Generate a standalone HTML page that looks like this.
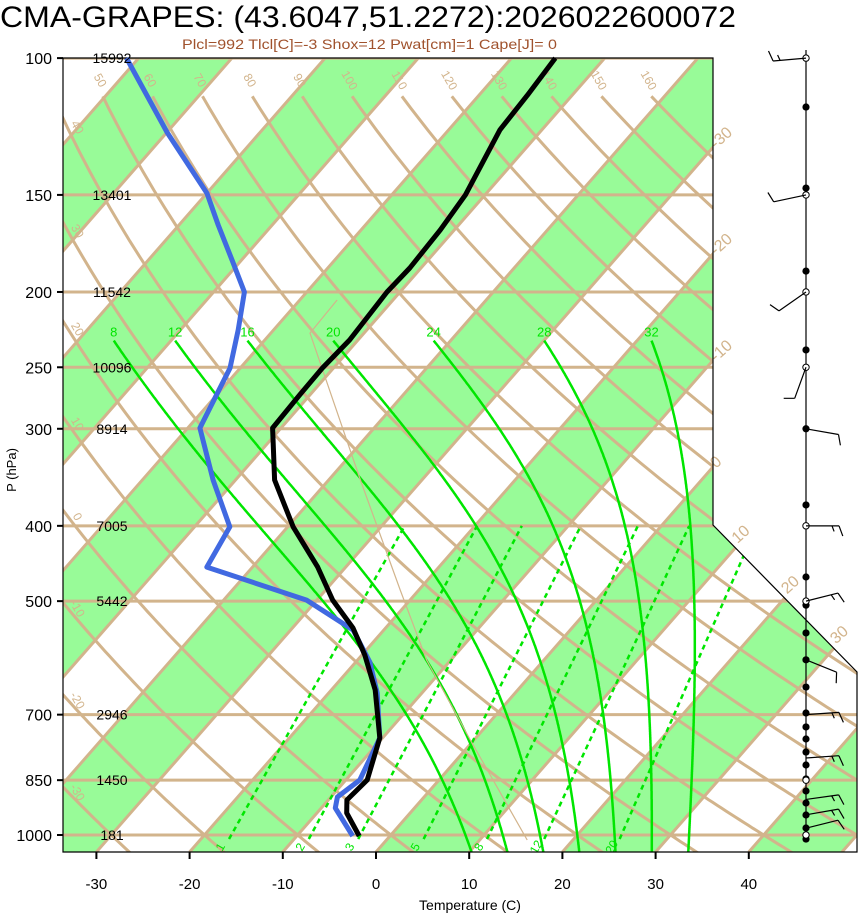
<!DOCTYPE html>
<html><head><meta charset="utf-8"><title>CMA-GRAPES Skew-T</title>
<style>
html,body{margin:0;padding:0;background:#fff;}
svg{display:block;font-family:"Liberation Sans",sans-serif;}
</style></head>
<body>
<svg id="chart" width="860" height="914" viewBox="0 0 860 914" xmlns="http://www.w3.org/2000/svg">
<defs><clipPath id="plotclip"><polygon points="63,58 713,58 713,525 857,672 857,852 63,852"/></clipPath></defs>
<text x="0" y="27" font-size="30" textLength="736" lengthAdjust="spacingAndGlyphs">CMA-GRAPES: (43.6047,51.2272):2026022600072</text>
<text x="182" y="49" font-size="14" fill="#a0522d" textLength="375" lengthAdjust="spacingAndGlyphs">Plcl=992 Tlcl[C]=-3 Shox=12 Pwat[cm]=1 Cape[J]= 0</text>
<g id="bg" clip-path="url(#plotclip)"></g>
<g id="fg"></g>
</svg>
<script>
// ---- data ----
const isobars = [100,150,200,250,300,400,500,700,850,1000];
const heightLabels = ["15992","13401","11542","10096","8914","7005","5442","2946","1450","181"];
const tempTicks = [-30,-20,-10,0,10,20,30,40];
const dryTheta = [-30,-20,-10,0,10,20,30,40,50,60,70,80,90,100,110,120,130,140,150,160];
const moistThw = [8,12,16,20,24,28,32];
const mixRatios = [1,2,3,5,8,12,20];
const tempP = [100,111.6,123.7,150,166.4,186.3,200,230.6,250.6,271.4,299.3,349.2,401.3,452,498.4,541.4,586.5,650.6,750,849.6,901.5,936.9,1003];
const tempC = [-55.3,-54.8,-54.5,-52.1,-51.5,-51.2,-51.4,-50.9,-51.2,-51.1,-50.9,-45.8,-39.4,-33.0,-28.3,-23.5,-19.7,-15.3,-10.3,-7.7,-8.0,-6.8,-3.3];
const dewP = [100,124.8,149.2,164,182,200,223.8,250.6,273.9,299.3,349.2,401.3,452,498.4,544.6,598.9,656.5,750,849.6,893.5,923,1003];
const dewC = [-101.3,-89.9,-80.0,-75.8,-71.0,-66.7,-63.8,-61.1,-59.9,-58.7,-52.4,-46.2,-44.9,-31.1,-23.3,-18.5,-14.8,-10.3,-8.5,-9.3,-8.5,-4.0];
const parcelP = [204.8,225.9,349.2,483.8,595.3,754.6,1015];
const parcelC = [-56.0,-55.8,-36.6,-22.0,-12.6,-0.4,15.1];
const dotP = [115.6,147,188,237.5,300,376,465.5,506,549.5,595,645,696.6,726,752.4,782,812.6,847,877.7,909.5,942.4,979.5,1012];
const openP = [100,150,200,250,400,500,850,1000];
const windP = [100,150,200,250,300,400,500,595,700,796,900,942,980];
const windDir = [265,258,235,200,100,90,76,112,86,86,82,80,76];
const windSpd = [15,10,10,10,10,15,15,10,15,15,15,15,10];

// ---- axes ----
const NS="http://www.w3.org/2000/svg";
const Y = p => 835 - 337.4*Math.log(1000/p);
const X = (T,p) => 376 + 9.32*T + 0.875*(852 - Y(p));
const XY = (T,y) => 376 + 9.32*T + 0.875*(852 - y);
const bg=document.getElementById('bg'), fg=document.getElementById('fg');
function el(tag,attrs,parent){const e=document.createElementNS(NS,tag);for(const k in attrs)e.setAttribute(k,attrs[k]);(parent||fg).appendChild(e);return e;}
const TAN="#d2b48c", LIME="#00e600";

// isotherm bands
for(let T=-120;T<=60;T+=10){
  if(((T%20)+20)%20===0){
    const b=el('polygon',{points:`${XY(T,852)},852 ${XY(T+10,852)},852 ${XY(T+10,40)},40 ${XY(T,40)},40`,fill:"#98fb98"},bg);
    
    
  }
}
// isobars
isobars.forEach(p=>{
  const l=el('line',{x1:63,x2:860,y1:Y(p),y2:Y(p),stroke:TAN,'stroke-width':3},bg);
  
  
});
// isotherms
for(let T=-120;T<=60;T+=10){
  const l=el('line',{x1:XY(T,852),y1:852,x2:XY(T,40),y2:40,stroke:TAN,'stroke-width':3},bg);
  
  
}
// dry adiabats
dryTheta.forEach(th=>{
  let pts=[];
  for(let p=1060;p>=112;p-=8){const T=(th+273.15)*Math.pow(p/1000,0.2857)-273.15;pts.push(X(T,p).toFixed(1)+','+Y(p).toFixed(1));}
  const T112=(th+273.15)*Math.pow(112/1000,0.2857)-273.15;
  pts.push(X(T112,112).toFixed(1)+','+Y(112).toFixed(1));
  const l=el('polyline',{points:pts.join(' '),fill:'none',stroke:TAN,'stroke-width':3},bg);
  
  
  let lx=X(T112,112)-6, ly=Y(112)-14;
  if(lx<70){
    for(let p=112;p<1100;p+=1){const T=(th+273.15)*Math.pow(p/1000,0.2857)-273.15;if(X(T,p)>=66){lx=74;ly=Y(p)+4;break;}}
  }
  const t=el('text',{x:lx,y:ly,'font-size':12,fill:TAN,'text-anchor':'middle',transform:`rotate(60 ${lx} ${ly})`});
  
  
  t.textContent=th;
});
// moist adiabats
function dTdp(T,p){const es=6.112*Math.exp(17.67*(T-273.15)/(T-29.65));const rs=0.622*es/(p-es);
  return (287*T+2.5e6*rs)/(p*(1004+2.5e6*2.5e6*rs*0.622/(287*T*T)));}
moistThw.forEach(th=>{
  let down=[],up=[];let T=th+273.15;
  for(let p=1000;p<=1060;p+=2){down.push([T,p]);T+=dTdp(T,p)*2;}
  T=th+273.15;
  for(let p=1000;p>=231;p-=1){up.push([T,p]);T-=dTdp(T,p)*1;}
  const all=down.reverse().concat(up);
  const l=el('polyline',{points:all.map(a=>X(a[0]-273.15,a[1]).toFixed(1)+','+Y(a[1]).toFixed(1)).join(' '),fill:'none',stroke:LIME,'stroke-width':2.5},bg);
  
  
  const top=up[up.length-1];
  const t=el('text',{x:X(top[0]-273.15,top[1]),y:Y(top[1])-4,'font-size':13,fill:LIME,'text-anchor':'middle'});
  
  
  t.textContent=th;
});
// mixing ratio lines
function tdOf(w,p){const e=w/1000*p/(0.622+w/1000);const l=Math.log(e/6.112);return 243.5*l/(17.67-l);}
mixRatios.forEach(w=>{
  const l=el('line',{x1:X(tdOf(w,1012),1012),y1:Y(1012),x2:X(tdOf(w,400),400),y2:Y(400),stroke:LIME,'stroke-width':2.5,'stroke-dasharray':'5,4'},bg);
  
  
  const lx=X(tdOf(w,1030),1030)-2, ly=Y(1030)+4;
  const t=el('text',{x:lx,y:ly,'font-size':12,fill:LIME,'text-anchor':'middle',transform:`rotate(-60 ${lx} ${ly})`},bg);
  
  
  t.textContent=w;
});
// parcel path
{const l=el('polyline',{points:parcelP.map((p,i)=>X(parcelC[i],p).toFixed(1)+','+Y(p).toFixed(1)).join(' '),fill:'none',stroke:TAN,'stroke-width':1.2},bg);
 
 }

// isotherm labels on right edge
for(let T=-30;T<=30;T+=10){
  let lx,ly;
  const yEdge=852-(713-376-9.32*T)/0.875;
  if(yEdge<=525){lx=716;ly=yEdge+2;}
  else{
    for(let y=525;y<=672;y+=0.5){const xd=713+(y-525)*144/147;if(XY(T,y)<=xd){lx=xd+2;ly=y-4;break;}}
  }
  if(lx===undefined)continue;
  const t=el('text',{x:lx,y:ly,'font-size':16,fill:TAN,transform:`rotate(-42 ${lx} ${ly})`});
  
  
  t.textContent=T;
}

// frame
{const f=el('polygon',{points:"63,58 713,58 713,525 857,672 857,852 63,852",fill:'none',stroke:'#000','stroke-width':1.2});
 
 }

// soundings
{const d=el('polyline',{points:dewP.map((p,i)=>X(dewC[i],p).toFixed(1)+','+Y(p).toFixed(1)).join(' '),fill:'none',stroke:'#4169e1','stroke-width':5,'stroke-linejoin':'round'});
 
 
 const t=el('polyline',{points:tempP.map((p,i)=>X(tempC[i],p).toFixed(1)+','+Y(p).toFixed(1)).join(' '),fill:'none',stroke:'#000','stroke-width':5,'stroke-linejoin':'round'});
 
 }

// left axis
isobars.forEach((p,i)=>{
  const tk=el('line',{x1:57,x2:63,y1:Y(p),y2:Y(p),stroke:'#000','stroke-width':2});
  
  
  const t=el('text',{x:52,y:Y(p)+6,'font-size':16,'text-anchor':'end'});
  
  
  t.textContent=p;
  const h=el('text',{x:112,y:Y(p)+5,'font-size':14,'text-anchor':'middle'});
  
  
  h.textContent=heightLabels[i];
});
{const t=el('text',{x:16,y:470,'font-size':13,'text-anchor':'middle',transform:'rotate(-90 16 470)'});
 
 
 t.textContent='P (hPa)';}
// bottom axis
tempTicks.forEach(T=>{
  const x=XY(T,852);
  const tk=el('line',{x1:x,x2:x,y1:852,y2:859,stroke:'#000','stroke-width':2});
  
  
  const t=el('text',{x:x,y:889,'font-size':15,'text-anchor':'middle'});
  
  
  t.textContent=T;
});
{const t=el('text',{x:470,y:910,'font-size':14,'text-anchor':'middle'});
 
 
 t.textContent='Temperature (C)';}

// wind profile
const SX=806;
{const s=el('line',{x1:SX,x2:SX,y1:50,y2:Y(1012),stroke:'#000','stroke-width':1.2});
 
 }
dotP.forEach(p=>{
  const c=el('circle',{cx:SX,cy:Y(p),r:3.6,fill:'#000'});
  
  
});
openP.forEach(p=>{
  const c=el('circle',{cx:SX,cy:Y(p),r:3.2,fill:'#fff',stroke:'#000','stroke-width':1});
  
  
});
windP.forEach((p,i)=>{
  const a=windDir[i]*Math.PI/180, vx=Math.sin(a), vy=-Math.cos(a);
  const y0=Y(p), L=33, ex=SX+vx*L, ey=y0+vy*L;
  const fa=70*Math.PI/180, fx=vx*Math.cos(fa)-vy*Math.sin(fa), fy=vx*Math.sin(fa)+vy*Math.cos(fa);
  let d=`M${SX},${y0} L${ex.toFixed(1)},${ey.toFixed(1)}`;
  let s=windSpd[i], k=0;
  while(s>=10){const bx=ex-vx*k*5, by=ey-vy*k*5;d+=` M${bx.toFixed(1)},${by.toFixed(1)} l${(fx*11).toFixed(1)},${(fy*11).toFixed(1)}`;s-=10;k++;}
  if(s>=5){const bx=ex-vx*(k+0.4)*5, by=ey-vy*(k+0.4)*5;d+=` M${bx.toFixed(1)},${by.toFixed(1)} l${(fx*6).toFixed(1)},${(fy*6).toFixed(1)}`;}
  const b=el('path',{d:d,fill:'none',stroke:'#000','stroke-width':1.2});
  
  
});
</script>
</body></html>
